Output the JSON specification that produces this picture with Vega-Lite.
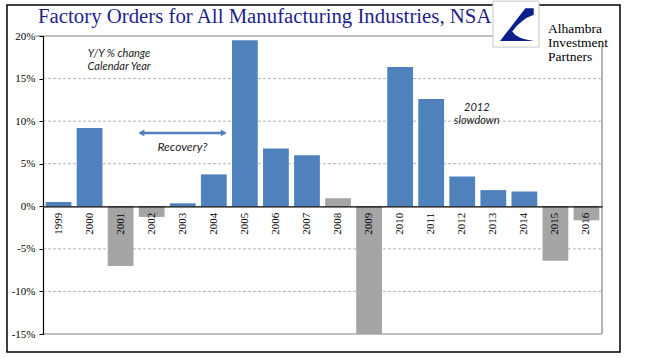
{
  "$schema": "https://vega.github.io/schema/vega-lite/v6.json",
  "width": 613,
  "height": 347,
  "autosize": {"type": "none"},
  "padding": {"left": 7, "top": 5, "right": 29, "bottom": 6},
  "config": {"view": {"stroke": "#000000", "strokeWidth": 1.5}, "font": "Liberation Serif"},
  "datasets": {
    "orders": [
      {"year": "1999", "pct": 0.5, "phase": "Growth"},
      {"year": "2000", "pct": 9.2, "phase": "Growth"},
      {"year": "2001", "pct": -7.0, "phase": "Weak"},
      {"year": "2002", "pct": -1.25, "phase": "Weak"},
      {"year": "2003", "pct": 0.35, "phase": "Growth"},
      {"year": "2004", "pct": 3.75, "phase": "Growth"},
      {"year": "2005", "pct": 19.5, "phase": "Growth"},
      {"year": "2006", "pct": 6.8, "phase": "Growth"},
      {"year": "2007", "pct": 6.0, "phase": "Growth"},
      {"year": "2008", "pct": 0.95, "phase": "Weak"},
      {"year": "2009", "pct": -15.0, "phase": "Weak"},
      {"year": "2010", "pct": 16.35, "phase": "Growth"},
      {"year": "2011", "pct": 12.6, "phase": "Growth"},
      {"year": "2012", "pct": 3.5, "phase": "Growth"},
      {"year": "2013", "pct": 1.9, "phase": "Growth"},
      {"year": "2014", "pct": 1.75, "phase": "Growth"},
      {"year": "2015", "pct": -6.4, "phase": "Weak"},
      {"year": "2016", "pct": -1.65, "phase": "Weak"}
    ],
    "grid": [{"v": 15}, {"v": 10}, {"v": 5}, {"v": -5}, {"v": -10}]
  },
  "layer": [
    {
      "layer": [
        {
          "data": {"name": "grid"},
          "mark": {"type": "rule", "stroke": "#B5B5B5", "strokeDash": [3, 2], "strokeWidth": 1},
          "encoding": {
            "x": {"datum": 0, "type": "quantitative", "scale": {"domain": [0, 18], "range": [36, 595], "nice": false, "zero": false}, "axis": null},
            "x2": {"datum": 18},
            "y": {"field": "v", "type": "quantitative"}
          }
        },
        {
          "data": {"values": [{}]},
          "mark": {"type": "rule", "stroke": "#808080", "strokeWidth": 1.2},
          "encoding": {"x": {"datum": 0, "type": "quantitative"}, "x2": {"datum": 18}, "y": {"datum": -15, "type": "quantitative"}}
        },
        {
          "data": {"values": [{}]},
          "mark": {"type": "rule", "stroke": "#808080", "strokeWidth": 1.2},
          "encoding": {"x": {"datum": 18, "type": "quantitative"}, "y": {"datum": -15, "type": "quantitative"}, "y2": {"datum": 18.7}}
        },
        {
          "data": {"values": [{}]},
          "mark": {"type": "rule", "stroke": "#808080", "strokeWidth": 1.2},
          "encoding": {"x": {"datum": -0.26, "type": "quantitative"}, "x2": {"datum": 14.49}, "y": {"datum": 20, "type": "quantitative"}}
        }
      ]
    },
    {
      "data": {"name": "orders"},
      "mark": {"type": "bar"},
      "encoding": {
        "x": {
          "field": "year", "type": "ordinal",
          "scale": {"range": [36, 595], "paddingInner": 0.17, "paddingOuter": 0.085},
          "axis": {"title": null, "orient": "bottom", "offset": -145.7, "zindex": 1, "labelAngle": -90, "labelFont": "Liberation Serif", "labelFontSize": 11, "labelColor": "#000000", "ticks": false, "domainColor": "#000000", "domainWidth": 1.2, "labelPadding": 6}
        },
        "y": {
          "field": "pct", "type": "quantitative",
          "scale": {"domain": [-15, 20], "range": [329, 31], "nice": false, "zero": false},
          "axis": {"title": null, "orient": "left", "offset": -36, "zindex": 1, "values": [-15, -10, -5, 0, 5, 10, 15, 20], "labelExpr": "datum.value + '%'", "grid": false, "domainColor": "#000000", "domainWidth": 1.2, "tickColor": "#000000", "tickSize": 4, "labelFont": "Liberation Serif", "labelFontSize": 11, "labelColor": "#000000", "labelPadding": 4}
        },
        "color": {"field": "phase", "type": "nominal", "scale": {"domain": ["Growth", "Weak"], "range": ["#4F81BD", "#A5A5A5"]}, "legend": null}
      }
    },
    {
      "layer": [
        {
          "data": {"values": [{}]},
          "mark": {"type": "text", "align": "left", "baseline": "middle", "font": "Liberation Serif", "fontSize": 20.8, "color": "#1F1F8C"},
          "encoding": {
            "x": {"datum": -0.16, "type": "quantitative", "scale": {"domain": [0, 18], "range": [36, 595], "nice": false, "zero": false}, "axis": null},
            "y": {"datum": 22.2, "type": "quantitative"},
            "text": {"value": "Factory Orders for All Manufacturing Industries, NSA"}
          }
        },
        {
          "data": {"values": [{}]},
          "mark": {"type": "text", "align": "center", "baseline": "middle", "font": "Lato", "fontStyle": "italic", "fontSize": 11, "lineHeight": 12.7, "color": "#1A1A1A"},
          "encoding": {"x": {"datum": 2.45, "type": "quantitative"}, "y": {"datum": 17.85, "type": "quantitative"}, "text": {"value": ["Y/Y % change", "Calendar Year"]}}
        },
        {
          "data": {"values": [{}]},
          "mark": {"type": "text", "align": "center", "baseline": "middle", "font": "Lato", "fontStyle": "italic", "fontSize": 12, "color": "#1A1A1A"},
          "encoding": {"x": {"datum": 4.49, "type": "quantitative"}, "y": {"datum": 6.93, "type": "quantitative"}, "text": {"value": "Recovery?"}}
        },
        {
          "data": {"values": [{}]},
          "mark": {"type": "text", "align": "center", "baseline": "middle", "font": "Lato", "fontStyle": "italic", "fontSize": 11, "lineHeight": 13.3, "color": "#1A1A1A"},
          "encoding": {"x": {"datum": 13.97, "type": "quantitative"}, "y": {"datum": 11.59, "type": "quantitative"}, "text": {"value": ["2012", "slowdown"]}}
        },
        {
          "data": {"values": [{}]},
          "mark": {"type": "rule", "stroke": "#4F81BD", "strokeWidth": 2.5},
          "encoding": {"x": {"datum": 3.12, "type": "quantitative"}, "x2": {"datum": 5.87}, "y": {"datum": 8.61, "type": "quantitative"}}
        },
        {
          "data": {"values": [{}]},
          "mark": {"type": "point", "shape": "triangle-left", "filled": true, "color": "#4F81BD", "size": 45, "opacity": 1},
          "encoding": {"x": {"datum": 3.17, "type": "quantitative"}, "y": {"datum": 8.61, "type": "quantitative"}}
        },
        {
          "data": {"values": [{}]},
          "mark": {"type": "point", "shape": "triangle-right", "filled": true, "color": "#4F81BD", "size": 45, "opacity": 1},
          "encoding": {"x": {"datum": 5.82, "type": "quantitative"}, "y": {"datum": 8.61, "type": "quantitative"}}
        },
        {
          "data": {"values": [{}]},
          "mark": {"type": "rect", "fill": "#FFFFFF", "stroke": "#C8C8C8", "strokeWidth": 1},
          "encoding": {"x": {"datum": 14.49, "type": "quantitative"}, "x2": {"datum": 15.97}, "y": {"datum": 24.1, "type": "quantitative"}, "y2": {"datum": 18.7}}
        },
        {
          "data": {"values": [{}]},
          "mark": {"type": "point", "shape": "M 0.95 -0.85 L 0.5 -0.85 L -0.85 0.9 L 0.95 0.9 Q 0.05 0.8 -0.2 0.4 Q 0.25 -0.25 0.95 -0.5 Z", "filled": true, "color": "#0B1F8A", "size": 1400, "opacity": 1},
          "encoding": {"x": {"datum": 15.23, "type": "quantitative"}, "y": {"datum": 21.4, "type": "quantitative"}}
        },
        {
          "data": {"values": [{}]},
          "mark": {"type": "text", "align": "left", "baseline": "middle", "font": "Liberation Serif", "fontSize": 13.5, "lineHeight": 14, "color": "#000000"},
          "encoding": {"x": {"datum": 16.26, "type": "quantitative"}, "y": {"datum": 20.85, "type": "quantitative"}, "text": {"value": ["Alhambra", "Investment", "Partners"]}}
        }
      ]
    }
  ],
  "resolve": {"scale": {"x": "independent"}}
}
